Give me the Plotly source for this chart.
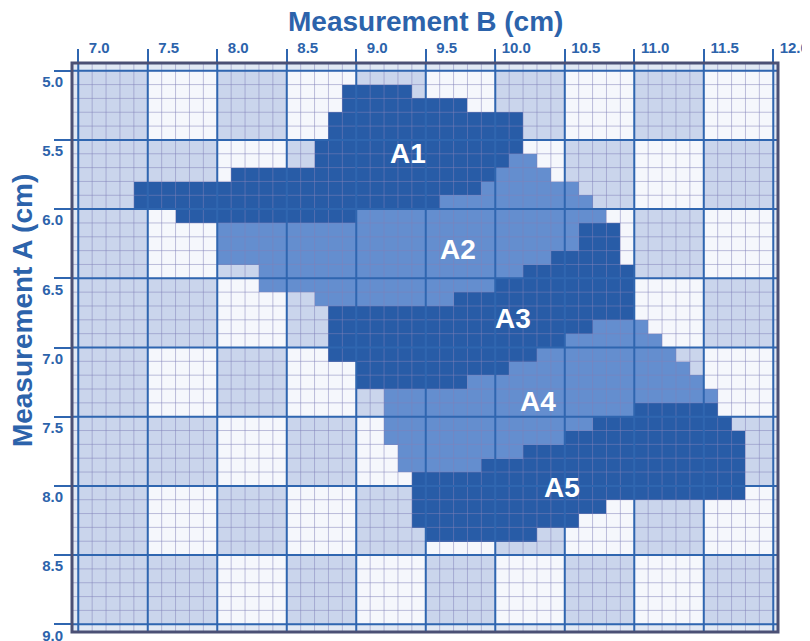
import numpy as np
import plotly.graph_objects as go

# ---------------- data ----------------
x_tick_values = [7.0, 7.5, 8.0, 8.5, 9.0, 9.5, 10.0, 10.5, 11.0, 11.5, 12.0]
x_tick_labels = ["7.0", "7.5", "8.0", "8.5", "9.0", "9.5", "10.0", "10.5", "11.0", "11.5", "12.0"]
y_tick_values = [5.0, 5.5, 6.0, 6.5, 7.0, 7.5, 8.0, 8.5, 9.0]
y_tick_labels = ["5.0", "5.5", "6.0", "6.5", "7.0", "7.5", "8.0", "8.5", "9.0"]

region_names = ["A1", "A2", "A3", "A4", "A5"]

# each region: top edge of each 0.1 cm row of Measurement A, and the span of Measurement B covered
A1_row_top = [5.1, 5.2, 5.3, 5.4, 5.5, 5.6, 5.7, 5.8, 5.9, 6.0]
A1_b_start = [8.9, 8.9, 8.8, 8.8, 8.7, 8.7, 8.1, 7.4, 7.4, 7.7]
A1_b_end = [9.4, 9.8, 10.2, 10.2, 10.2, 10.1, 10.0, 9.9, 9.6, 9.0]

A2_row_top = [5.6, 5.7, 5.8, 5.9, 6.0, 6.1, 6.2, 6.3, 6.4, 6.5, 6.6]
A2_b_start = [10.1, 10.0, 9.9, 9.6, 9.0, 8.0, 8.0, 8.0, 8.3, 8.3, 8.7]
A2_b_end = [10.3, 10.4, 10.6, 10.7, 10.8, 10.6, 10.6, 10.4, 10.2, 10.0, 9.7]

A3_row_top = [6.1, 6.2, 6.3, 6.4, 6.5, 6.6, 6.7, 6.8, 6.9, 7.0, 7.1, 7.2]
A3_b_start = [10.6, 10.6, 10.4, 10.2, 10.0, 9.7, 8.8, 8.8, 8.8, 8.8, 9.0, 9.0]
A3_b_end = [10.9, 10.9, 10.9, 11.0, 11.0, 11.0, 11.0, 10.7, 10.5, 10.3, 10.1, 9.8]

A4_row_top = [6.8, 6.9, 7.0, 7.1, 7.2, 7.3, 7.4, 7.5, 7.6, 7.7, 7.8]
A4_b_start = [10.7, 10.5, 10.3, 10.1, 9.8, 9.2, 9.2, 9.2, 9.2, 9.3, 9.3]
A4_b_end = [11.1, 11.2, 11.3, 11.4, 11.5, 11.6, 11.0, 10.7, 10.5, 10.2, 9.9]

A5_row_top = [7.4, 7.5, 7.6, 7.7, 7.8, 7.9, 8.0, 8.1, 8.2, 8.3]
A5_b_start = [11.0, 10.7, 10.5, 10.2, 9.9, 9.4, 9.4, 9.4, 9.4, 9.5]
A5_b_end = [11.6, 11.7, 11.8, 11.8, 11.8, 11.8, 11.8, 10.8, 10.6, 10.3]

# ---------------- styling ----------------
BLUE_TEXT = "#2c63ab"
MAJOR = "#2f66b0"
DARK = "#285ca7"
MEDIUM = "#648ecf"
CHECK = "#cad5ec"
WHITE_CELL = "#f5f7fc"
MINOR = "rgba(130,130,185,0.5)"
FONT = "Liberation Sans"

regions = [
    (A1_row_top, A1_b_start, A1_b_end, 1),
    (A2_row_top, A2_b_start, A2_b_end, 2),
    (A3_row_top, A3_b_start, A3_b_end, 1),
    (A4_row_top, A4_b_start, A4_b_end, 2),
    (A5_row_top, A5_b_start, A5_b_end, 1),
]
label_pos = {"A1": (9.37, 5.60), "A2": (9.73, 6.29), "A3": (10.13, 6.79),
             "A4": (10.31, 7.39), "A5": (10.48, 8.01)}

step = 0.1
x_lo, x_hi = x_tick_values[0], x_tick_values[-1]
y_lo, y_hi = y_tick_values[0], y_tick_values[-1]
nx = int(round((x_hi - x_lo) / step))
ny = int(round((y_hi - y_lo) / step))
z = np.full((ny, nx), np.nan)
for tops, starts, ends, code in regions:
    for t, a, b in zip(tops, starts, ends):
        r = int(round((t - y_lo) / step))
        c0 = int(round((a - x_lo) / step))
        c1 = int(round((b - x_lo) / step))
        z[r, c0:c1] = code

xc = x_lo + step / 2 + step * np.arange(nx)
yc = y_lo + step / 2 + step * np.arange(ny)

fig = go.Figure()
fig.add_trace(go.Heatmap(
    x=xc, y=yc, z=z, zmin=0.5, zmax=2.5,
    colorscale=[[0, DARK], [0.5, DARK], [0.5, MEDIUM], [1, MEDIUM]],
    showscale=False, hoverinfo="skip"))

shapes = []
# checkerboard background
for i in range(len(x_tick_values) - 1):
    for j in range(len(y_tick_values) - 1):
        if i == 0 or (i + j) % 2 == 0:
            col = CHECK
        else:
            col = WHITE_CELL
        shapes.append(dict(type="rect", layer="below", xref="x", yref="y",
                           x0=x_tick_values[i], x1=x_tick_values[i + 1],
                           y0=y_tick_values[j], y1=y_tick_values[j + 1],
                           fillcolor=col, line=dict(width=0)))
# minor grid
for k in range(nx + 1):
    v = x_lo + k * step
    shapes.append(dict(type="line", layer="above", xref="x", yref="paper",
                       x0=v, x1=v, y0=0, y1=1, line=dict(color=MINOR, width=1)))
for k in range(ny + 1):
    v = y_lo + k * step
    shapes.append(dict(type="line", layer="above", xref="paper", yref="y",
                       x0=0, x1=1, y0=v, y1=v, line=dict(color=MINOR, width=1)))
# major grid
for v in x_tick_values:
    shapes.append(dict(type="line", layer="above", xref="x", yref="paper",
                       x0=v, x1=v, y0=0, y1=1, line=dict(color=MAJOR, width=2)))
for v in y_tick_values:
    shapes.append(dict(type="line", layer="above", xref="paper", yref="y",
                       x0=0, x1=1, y0=v, y1=v, line=dict(color=MAJOR, width=2)))
# frame
shapes.append(dict(type="rect", layer="above", xref="paper", yref="paper",
                   x0=0, x1=1, y0=0, y1=1, line=dict(color="#4b5075", width=3)))

annotations = []
for name in region_names:
    lx, ly = label_pos[name]
    annotations.append(dict(x=lx, y=ly, xref="x", yref="y", text=name, showarrow=False,
                            font=dict(family=FONT, size=28, color="white", weight="bold")))
annotations.append(dict(x=0.5, y=1.073, xref="paper", yref="paper", text="Measurement B (cm)",
                        showarrow=False, xanchor="center", yanchor="middle",
                        font=dict(family=FONT, size=28, color=BLUE_TEXT, weight="bold")))
annotations.append(dict(x=-0.0708, y=0.564, xref="paper", yref="paper", text="Measurement A (cm)",
                        showarrow=False, xanchor="center", yanchor="middle", textangle=-90,
                        font=dict(family=FONT, size=28, color=BLUE_TEXT, weight="bold")))

# the page body adds an 8 px offset, so the figure is drawn 8 px smaller
fig.update_layout(
    width=802, height=633,
    margin=dict(l=64, r=32, t=55, b=9, autoexpand=False),
    paper_bgcolor="white",
    plot_bgcolor="#e1e8f4",
    shapes=shapes,
    annotations=annotations,
    showlegend=False,
    xaxis=dict(range=[6.955, 12.034], side="top", showgrid=False, zeroline=False,
               automargin=False, ticklabeloverflow="allow",
               tickvals=x_tick_values, ticktext=x_tick_labels,
               ticks="outside", ticklen=13, tickwidth=2, tickcolor=MAJOR,
               ticklabelshift=21, ticklabelstandoff=-10,
               tickfont=dict(family=FONT, size=15, color=BLUE_TEXT, weight="bold")),
    yaxis=dict(range=[9.056, 4.944], showgrid=False, zeroline=False,
               automargin=False, ticklabeloverflow="allow",
               tickvals=y_tick_values, ticktext=y_tick_labels,
               ticks="outside", ticklen=17, tickwidth=2, tickcolor=MAJOR,
               ticklabelshift=-11, ticklabelstandoff=-12,
               tickfont=dict(family=FONT, size=15, color=BLUE_TEXT, weight="bold")),
)

fig.write_html("out.html")
